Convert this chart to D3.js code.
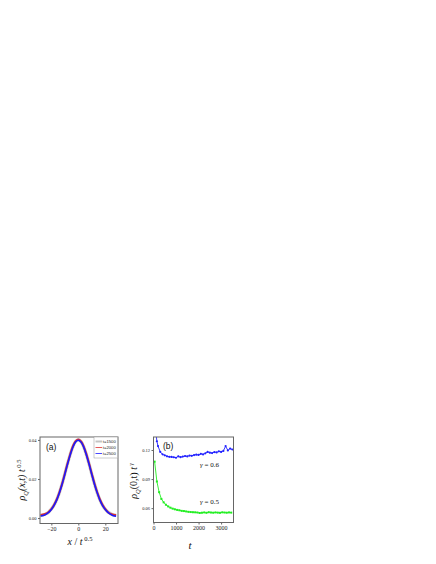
<!DOCTYPE html>
<html>
<head>
<meta charset="utf-8">
<script src="https://cdn.jsdelivr.net/npm/d3@7"></script>
<style>
  body { margin: 0; background: #fff; }
  svg { display: block; }
  .tick text { font-family: "Liberation Serif", serif; }
</style>
</head>
<body>
<svg id="chart" width="436" height="564"></svg>
<script>
// panel (a): scaled profiles rho_Q(x,t) t^0.5 vs x / t^0.5
const xScaled = [-28, -26, -24, -22, -20, -18, -16, -14, -12, -10, -8, -6, -4, -2, 0,
  2, 4, 6, 8, 10, 12, 14, 16, 18, 20, 22, 24, 26, 28];
const prof1500 = [0.0014, 0.0016, 0.0021, 0.0030, 0.0046, 0.0066, 0.0094, 0.0131, 0.0176, 0.0226,
  0.0278, 0.0326, 0.0366, 0.0392, 0.0400, 0.0391, 0.0365, 0.0324, 0.0276, 0.0224, 0.0174,
  0.0130, 0.0093, 0.0065, 0.0045, 0.0031, 0.0022, 0.0016, 0.0014];
const prof2000 = [0.0016, 0.0018, 0.0022, 0.0031, 0.0045, 0.0067, 0.0095, 0.0132, 0.0175, 0.0227,
  0.0279, 0.0327, 0.0368, 0.0394, 0.0402, 0.0392, 0.0366, 0.0326, 0.0278, 0.0226, 0.0176,
  0.0132, 0.0095, 0.0067, 0.0046, 0.0030, 0.0021, 0.0017, 0.0015];
const prof2500 = [0.0010, 0.0013, 0.0019, 0.0029, 0.0044, 0.0065, 0.0093, 0.0130, 0.0174, 0.0224,
  0.0276, 0.0324, 0.0364, 0.0390, 0.0398, 0.0389, 0.0363, 0.0323, 0.0275, 0.0223, 0.0173,
  0.0129, 0.0092, 0.0064, 0.0044, 0.0029, 0.0019, 0.0012, 0.0010];
const legendLabels = ["t=1500", "t=2000", "t=2500"];
const xTicksA = [-20, 0, 20];
const yTicksA = [0.00, 0.02, 0.04];

// panel (b): rho_Q(0,t) t^gamma vs t
const tBlue = [100, 150, 200, 300, 400, 500, 600, 700, 800, 900, 1000, 1100, 1200, 1300, 1400,
  1500, 1600, 1700, 1800, 1900, 2000, 2100, 2200, 2300, 2400, 2500, 2600, 2700, 2800, 2900,
  3000, 3100, 3200, 3300, 3400, 3500];
const rhoBlue = [0.1400, 0.1290, 0.1240, 0.1180, 0.1155, 0.1145, 0.1135, 0.1130, 0.1128, 0.1125,
  0.1120, 0.1135, 0.1126, 0.1132, 0.1138, 0.1134, 0.1142, 0.1140, 0.1148, 0.1152, 0.1149,
  0.1160, 0.1154, 0.1166, 0.1180, 0.1172, 0.1168, 0.1178, 0.1175, 0.1186, 0.1180, 0.1190,
  0.1240, 0.1195, 0.1215, 0.1205];
const tGreen = [50, 150, 250, 350, 450, 550, 650, 750, 850, 950, 1050, 1150, 1250, 1350, 1450,
  1550, 1650, 1750, 1850, 1950, 2050, 2150, 2250, 2350, 2450, 2550, 2650, 2750, 2850, 2950,
  3050, 3150, 3250, 3350, 3450];
const rhoGreen = [0.1080, 0.0875, 0.0765, 0.0695, 0.0660, 0.0635, 0.0618, 0.0605, 0.0595, 0.0588,
  0.0582, 0.0578, 0.0572, 0.0570, 0.0566, 0.0562, 0.0560, 0.0558, 0.0557, 0.0555, 0.0550,
  0.0553, 0.0556, 0.0552, 0.0558, 0.0555, 0.0553, 0.0556, 0.0554, 0.0552, 0.0557, 0.0555,
  0.0553, 0.0556, 0.0554];
const xTicksB = [0, 1000, 2000, 3000];
const yTicksB = [0.06, 0.09, 0.12];

const svg = d3.select("#chart");
const frameColor = "#666";

function frame(g, x, y) {
  const [x0, x1] = x.range();
  const [y0, y1] = y.range();
  g.append("rect")
    .attr("x", x0).attr("y", y1)
    .attr("width", x1 - x0).attr("height", y0 - y1)
    .style("fill", "none").style("stroke", frameColor).style("stroke-width", 1);
}

function styleAxis(sel, size) {
  sel.select(".domain").remove();
  sel.selectAll(".tick line").style("stroke", frameColor);
  sel.selectAll(".tick text").style("font-size", size + "px").style("fill", "#222");
}

// ---------- panel (a)
const xA = d3.scaleLinear().domain([-28.4, 29.4]).range([40, 118]);
const yA = d3.scaleLinear().domain([-0.0028, 0.0415]).range([523.5, 437]);
const gA = svg.append("g");

const clipA = gA.append("clipPath").attr("id", "clipA");
clipA.append("rect").attr("x", 40).attr("y", 437).attr("width", 78).attr("height", 86.5);

const lineA = d3.line().x((d) => xA(d[0])).y((d) => yA(d[1])).curve(d3.curveCatmullRom);
const plotA = gA.append("g").attr("clip-path", "url(#clipA)");
plotA.append("path")
  .attr("d", lineA(d3.zip(xScaled, prof1500)))
  .style("fill", "none").style("stroke", "#c4c4c4").style("stroke-width", 3.2);
plotA.append("path")
  .attr("d", lineA(d3.zip(xScaled, prof2000)))
  .style("fill", "none").style("stroke", "#e03030").style("stroke-width", 2);
plotA.append("path")
  .attr("d", lineA(d3.zip(xScaled, prof2500)))
  .style("fill", "none").style("stroke", "#1a1aff").style("stroke-width", 1.6);

gA.append("g")
  .attr("transform", "translate(0,523.5)")
  .call(d3.axisBottom(xA).tickValues(xTicksA).tickSize(2).tickPadding(1.5))
  .call((s) => styleAxis(s, 6));
gA.append("g")
  .attr("transform", "translate(40,0)")
  .call(d3.axisLeft(yA).tickValues(yTicksA).tickFormat(d3.format(".2f")).tickSize(2).tickPadding(1.5))
  .call((s) => styleAxis(s, 4.5));
frame(gA, xA, yA);

// legend
const legA = gA.append("g").attr("transform", "translate(94,437)");
legA.append("rect")
  .attr("width", 23.5).attr("height", 21)
  .style("fill", "#fff").style("stroke", "#999").style("stroke-width", 0.5);
const legColors = ["#c4c4c4", "#e03030", "#1a1aff"];
legendLabels.forEach((lab, i) => {
  const ly = 4.5 + i * 6;
  legA.append("line")
    .attr("x1", 1.5).attr("x2", 8).attr("y1", ly).attr("y2", ly)
    .style("stroke", legColors[i]).style("stroke-width", i === 0 ? 2 : 0.8);
  legA.append("text")
    .attr("x", 8.8).attr("y", ly + 1.5)
    .style("font-family", "Liberation Sans, Arial, sans-serif")
    .style("font-size", "4.2px").style("fill", "#222")
    .text(lab);
});

gA.append("text")
  .attr("x", 46).attr("y", 450)
  .style("font-family", "Liberation Sans, Arial, sans-serif")
  .style("font-size", "8.5px").style("fill", "#111")
  .text("(a)");

// y title (a)
const yTitleA = gA.append("text")
  .attr("transform", "translate(25,480) rotate(-90)")
  .attr("text-anchor", "middle")
  .style("font-family", "Liberation Serif, serif")
  .style("font-size", "10px").style("fill", "#111");
yTitleA.append("tspan").style("font-style", "italic").text("ρ");
yTitleA.append("tspan").attr("dy", 2.5).style("font-size", "6.5px").style("font-style", "italic").text("Q");
yTitleA.append("tspan").attr("dy", -2.5).style("font-style", "italic").text("(x,t) t");
yTitleA.append("tspan").attr("dy", -4).style("font-size", "6.5px").text(" 0.5");

// x title (a)
const xTitleA = gA.append("text")
  .attr("x", 80).attr("y", 545)
  .attr("text-anchor", "middle")
  .style("font-family", "Liberation Serif, serif")
  .style("font-size", "10px").style("fill", "#111");
xTitleA.append("tspan").style("font-style", "italic").text("x");
xTitleA.append("tspan").text(" / ");
xTitleA.append("tspan").style("font-style", "italic").text("t");
xTitleA.append("tspan").attr("dy", -4).style("font-size", "6.5px").text(" 0.5");

// ---------- panel (b)
const xB = d3.scaleLinear().domain([0, 3550]).range([153.5, 233.5]);
const yB = d3.scaleLinear().domain([0.0452, 0.1334]).range([522.5, 437]);
const gB = svg.append("g");

const clipB = gB.append("clipPath").attr("id", "clipB");
clipB.append("rect").attr("x", 153.5).attr("y", 437).attr("width", 80).attr("height", 85.5);
const plotB = gB.append("g").attr("clip-path", "url(#clipB)");

const lineB = d3.line().x((d) => xB(d[0])).y((d) => yB(d[1]));
const blueData = d3.zip(tBlue, rhoBlue);
const greenData = d3.zip(tGreen, rhoGreen);

plotB.append("path")
  .attr("d", lineB(blueData))
  .style("fill", "none").style("stroke", "#2222ff").style("stroke-width", 0.9);
plotB.selectAll(".ptB")
  .data(blueData)
  .join("circle")
  .attr("cx", (d) => xB(d[0])).attr("cy", (d) => yB(d[1]))
  .attr("r", 1.1)
  .style("fill", "#2222ff");

plotB.append("path")
  .attr("d", lineB(greenData))
  .style("fill", "none").style("stroke", "#22ee22").style("stroke-width", 0.9);
plotB.selectAll(".ptG")
  .data(greenData)
  .join("rect")
  .attr("x", (d) => xB(d[0]) - 1).attr("y", (d) => yB(d[1]) - 1)
  .attr("width", 2).attr("height", 2)
  .style("fill", "#22ee22");

gB.append("g")
  .attr("transform", "translate(0,522.5)")
  .call(d3.axisBottom(xB).tickValues(xTicksB).tickFormat(d3.format("d")).tickSize(2).tickPadding(1.5))
  .call((s) => styleAxis(s, 6));
gB.append("g")
  .attr("transform", "translate(153.5,0)")
  .call(d3.axisLeft(yB).tickValues(yTicksB).tickFormat(d3.format(".2f")).tickSize(2).tickPadding(1.5))
  .call((s) => styleAxis(s, 4.5));
frame(gB, xB, yB);

gB.append("text")
  .attr("x", 163).attr("y", 449)
  .style("font-family", "Liberation Sans, Arial, sans-serif")
  .style("font-size", "8.5px").style("fill", "#111")
  .text("(b)");

function gammaLabel(x, y, val) {
  const t = gB.append("text")
    .attr("x", x).attr("y", y)
    .style("font-family", "Liberation Serif, serif")
    .style("font-size", "7px").style("fill", "#111");
  t.append("tspan").style("font-style", "italic").text("γ");
  t.append("tspan").text(" = " + val);
}
gammaLabel(200, 467, "0.6");
gammaLabel(200, 504, "0.5");

// y title (b)
const yTitleB = gB.append("text")
  .attr("transform", "translate(137,481) rotate(-90)")
  .attr("text-anchor", "middle")
  .style("font-family", "Liberation Serif, serif")
  .style("font-size", "10px").style("fill", "#111");
yTitleB.append("tspan").style("font-style", "italic").text("ρ");
yTitleB.append("tspan").attr("dy", 2.5).style("font-size", "6.5px").style("font-style", "italic").text("Q");
yTitleB.append("tspan").attr("dy", -2.5).text("(0,t) ");
yTitleB.append("tspan").style("font-style", "italic").text("t");
yTitleB.append("tspan").attr("dy", -4).style("font-size", "6px").style("font-style", "italic").text(" γ");

// x title (b)
gB.append("text")
  .attr("x", 190).attr("y", 549)
  .attr("text-anchor", "middle")
  .style("font-family", "Liberation Serif, serif")
  .style("font-size", "11px").style("font-style", "italic").style("fill", "#111")
  .text("t");
</script>
</body>
</html>
